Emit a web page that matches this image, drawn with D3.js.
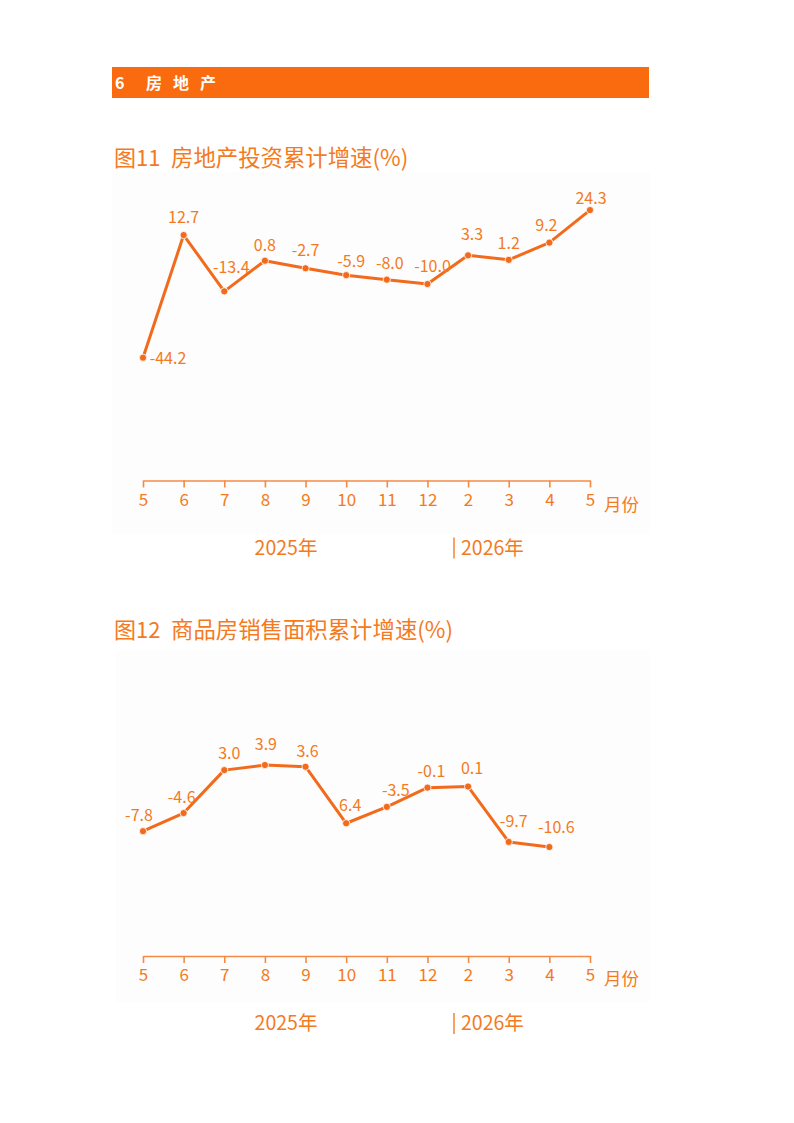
<!DOCTYPE html>
<html><head><meta charset="utf-8">
<script src="https://cdn.jsdelivr.net/npm/d3@7"></script>
<style>
html,body{margin:0;padding:0;background:#fff;}
svg{display:block;font-family:"Noto Sans CJK SC","Noto Sans",sans-serif;}
</style></head>
<body>
<script>
// ---- data ----
const months = ["5","6","7","8","9","10","11","12","2","3","4","5"];
const investValues = [-44.2, 12.7, -13.4, 0.8, -2.7, -5.9, -8.0, -10.0, 3.3, 1.2, 9.2, 24.3];
const investLabels = ["-44.2","12.7","-13.4","0.8","-2.7","-5.9","-8.0","-10.0","3.3","1.2","9.2","24.3"];
const salesValues = [-7.8, -4.6, 3.0, 3.9, 3.6, -6.4, -3.5, -0.1, 0.1, -9.7, -10.6];
const salesLabels = ["-7.8","-4.6","3.0","3.9","3.6","6.4","-3.5","-0.1","0.1","-9.7","-10.6"];
const years = ["2025年", "2026年"];
const sectionNum = "6";
const sectionName = "房地产";
const title1 = ["图11", "房地产投资累计增速(%)"];
const title2 = ["图12", "商品房销售面积累计增速(%)"];
const unitLabel = "月份";

// ---- layout (not data) ----
const investLabelOffsets = [[25,6],[0,-12],[7,-18],[0,-10],[0,-12],[5,-8],[3,-11],[5,-12],[4,-15],[0,-11],[-3,-12],[1,-6]];
const salesLabelOffsets = [[-4,-10],[-2,-10],[5,-11],[1,-15],[2,-10],[4,-12],[9,-11],[4,-11],[4,-13],[5,-15],[7,-14]];

const W = 794, H = 1123;
const orange = "#f26a1b";
const textOrange = "#f47a22";

const svg = d3.select("body").append("svg").attr("width", W).attr("height", H);

// section header
svg.append("rect").attr("x",112).attr("y",67).attr("width",537).attr("height",31).attr("fill","#fa6b0f");
svg.append("text").attr("x",115).attr("y",89).attr("fill","#fff").attr("font-size",16).attr("font-weight","bold").text(sectionNum);
svg.append("text").attr("x",146).attr("y",89).attr("fill","#fff").attr("font-size",16).attr("font-weight","bold")
  .attr("letter-spacing",11).text(sectionName);

function drawChart(cfg){
  const g = svg.append("g");
  g.append("rect").attr("x",cfg.bg[0]).attr("y",cfg.bg[1]).attr("width",cfg.bg[2]).attr("height",cfg.bg[3]).attr("fill","#fdfdfd");
  g.append("text").attr("x",114).attr("y",cfg.titleY).attr("fill",textOrange).attr("font-size",22).text(cfg.title[0]);
  g.append("text").attr("x",171).attr("y",cfg.titleY).attr("fill",textOrange).attr("font-size",22.4).text(cfg.title[1]);

  const x = d3.scalePoint().domain(d3.range(months.length)).range([143,590]);
  const y = d3.scaleLinear().domain(cfg.domain).range(cfg.range);

  const axis = d3.axisBottom(x).tickSize(7).tickSizeOuter(0).tickPadding(6).tickFormat(i => months[i]);
  const ag = g.append("g").attr("transform",`translate(0,${cfg.axisY})`).call(axis);
  ag.select(".domain").attr("stroke","#f58a45").attr("stroke-width",1.6);
  ag.selectAll(".tick line").attr("stroke","#f58a45").attr("stroke-width",1.6);
  ag.selectAll(".tick text").attr("fill",textOrange).attr("font-size",17).attr("font-family",'"Noto Sans CJK SC",sans-serif');

  g.append("text").attr("x",604).attr("y",cfg.axisY + cfg.unitDy).attr("fill",textOrange).attr("font-size",17.5).text(unitLabel);

  g.append("text").attr("x",286).attr("y",cfg.axisY + 74).attr("text-anchor","middle").attr("fill",textOrange).attr("font-size",19.5).text(years[0]);
  g.append("line").attr("x1",454).attr("x2",454).attr("y1",cfg.axisY + 57).attr("y2",cfg.axisY + 78).attr("stroke",textOrange).attr("stroke-width",1.4);
  g.append("text").attr("x",461).attr("y",cfg.axisY + 74).attr("fill",textOrange).attr("font-size",19.5).text(years[1]);

  const line = d3.line().x((d,i)=>x(i)).y(d=>y(d));
  g.append("path").datum(cfg.values).attr("d",line).attr("fill","none").attr("stroke",orange).attr("stroke-width",3).attr("stroke-linejoin","round");
  g.selectAll("circle.pt").data(cfg.values).enter().append("circle")
    .attr("cx",(d,i)=>x(i)).attr("cy",d=>y(d)).attr("r",3.6).attr("fill",orange).attr("stroke","#fff").attr("stroke-width",0.8);
  g.selectAll("text.lbl").data(cfg.values).enter().append("text")
    .attr("x",(d,i)=>x(i)+cfg.offsets[i][0]).attr("y",(d,i)=>y(d)+cfg.offsets[i][1])
    .attr("text-anchor","middle").attr("fill",textOrange).attr("font-size",16)
    .text((d,i)=>cfg.labels[i]);
}

drawChart({
  title: title1, titleY: 166, bg:[112,172,538,362],
  values: investValues, labels: investLabels, offsets: investLabelOffsets,
  domain: [-101, 30], range: [480.1, 197.8], axisY: 480.5, unitDy: 30
});
drawChart({
  title: title2, titleY: 638, bg:[116,650,534,352],
  values: salesValues, labels: salesLabels, offsets: salesLabelOffsets,
  domain: [-30, 20], range: [956.7, 674], axisY: 956, unitDy: 29
});
</script>
</body></html>
